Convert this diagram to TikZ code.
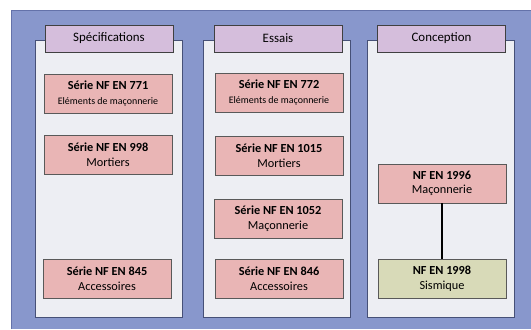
\documentclass[tikz,border=0pt]{standalone}
\usepackage{fontspec}
\setmainfont{Carlito}
\usetikzlibrary{positioning,shadows}
\definecolor{frameblue}{RGB}{136,151,204}
\definecolor{frameedge}{RGB}{100,114,170}
\definecolor{panelgray}{RGB}{237,238,243}
\definecolor{headlilac}{RGB}{213,190,220}
\definecolor{normpink}{RGB}{233,181,181}
\definecolor{seismgreen}{RGB}{216,218,184}

\begin{document}
\begin{tikzpicture}[x=0.03cm, y=-0.03cm,
    panel/.style={draw=frameedge!70!black, line width=0.5pt, fill=panelgray, minimum width=4.41cm, minimum height=8.31cm,
        drop shadow={shadow xshift=1.2pt, shadow yshift=-1.2pt, fill=frameedge!60!black, opacity=0.6}},
    head/.style={draw=black!75, line width=0.6pt, fill=headlilac, minimum width=3.84cm, minimum height=0.81cm, font=\fontsize{11}{13}\selectfont},
    norm/.style={draw=black!65, line width=0.5pt, fill=normpink, minimum width=3.84cm, minimum height=1.17cm, align=center, font=\fontsize{10.5}{12.5}\selectfont,
        drop shadow={shadow xshift=0.6pt, shadow yshift=-0.6pt, fill=black!30, opacity=0.5}},
    small/.style={font=\fontsize{8}{9.5}\selectfont}]

    \useasboundingbox (0,0) rectangle (531,329);

    % blue frame
    \fill[frameblue] (11,10) rectangle (531,329);
    \draw[frameedge, line width=0.8pt] (11,329) -- (11,10) -- (531,10);

    % three columns
    \node[panel] (pspec) at (108.5,178.5) {};
    \node[panel] (pess) at (276.5,178.5) {};
    \node[panel] (pconc) at (440.5,178.5) {};

    \node[head] (hspec) at (109,38.5) {Spécifications};
    \node[head] (hess) at (278,38.5) {Essais};
    \node[head] (hconc) at (441.5,38.5) {Conception};

    % specifications
    \node[norm] (en771) at (108,93.5) {\textbf{Série NF EN 771}\\{\fontsize{8.5}{10}\selectfont Eléments de maçonnerie}};
    \node[norm] (en998) at (108,154.5) {\textbf{Série NF EN 998}\\Mortiers};
    \node[norm] (en845) at (107,278.5) {\textbf{Série NF EN 845}\\Accessoires};

    % essais
    \node[norm] (en772) at (279,92.5) {\textbf{Série NF EN 772}\\{\fontsize{8.5}{10}\selectfont Eléments de maçonnerie}};
    \node[norm] (en1015) at (279,155.5) {\textbf{Série NF EN 1015}\\Mortiers};
    \node[norm] (en1052) at (278,218.5) {\textbf{Série NF EN 1052}\\Maçonnerie};
    \node[norm] (en846) at (279,278.5) {\textbf{Série NF EN 846}\\Accessoires};

    % conception
    \node[norm] (en1996) at (442,183.5) {\textbf{NF EN 1996}\\Maçonnerie};
    \node[norm, fill=seismgreen] (en1998) at (442,279) {\textbf{NF EN 1998}\\Sismique};

    \draw[line width=1.3pt] (en1996) -- (en1998);
\end{tikzpicture}
\end{document}
